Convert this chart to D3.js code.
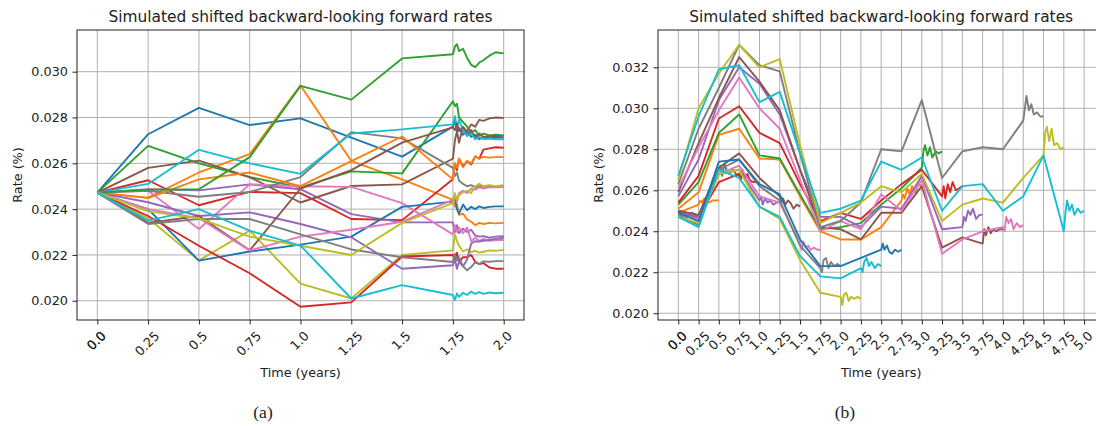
<!DOCTYPE html>
<html>
<head>
<meta charset="utf-8">
<script src="https://cdn.jsdelivr.net/npm/d3@7"></script>
<style>
body { margin: 0; background: #fff; }
svg { display: block; }
text { font-family: "DejaVu Sans", sans-serif; fill: #222; }
</style>
</head>
<body>
<svg></svg>
<script>
// matplotlib tab10 cycle
var colors = ['#1f77b4', '#ff7f0e', '#2ca02c', '#d62728', '#9467bd', '#8c564b', '#e377c2', '#7f7f7f', '#bcbd22', '#17becf'];

// ---- panel (a) data ----
var leftTimes = [0, 0.25, 0.5, 0.75, 1.0, 1.25, 1.5, 1.75];
var leftTailSteps = [0.01, 0.02, 0.03, 0.05, 0.07, 0.09, 0.11, 0.13, 0.15, 0.18, 0.21, 0.25];
var leftKnots = [
	[0.02472, 0.02727, 0.02842, 0.02767, 0.02796, 0.02712, 0.02629, 0.02760],
	[0.02472, 0.02450, 0.02560, 0.02640, 0.02940, 0.02610, 0.02530, 0.02440],
	[0.02472, 0.02676, 0.02600, 0.02540, 0.02495, 0.02565, 0.02556, 0.02871],
	[0.02472, 0.02526, 0.02417, 0.02475, 0.02470, 0.02357, 0.02352, 0.02530],
	[0.02472, 0.02487, 0.02482, 0.02508, 0.02487, 0.02378, 0.02342, 0.02342],
	[0.02472, 0.02580, 0.02612, 0.02540, 0.02429, 0.02501, 0.02508, 0.02620],
	[0.02472, 0.02480, 0.02313, 0.02508, 0.02500, 0.02497, 0.02426, 0.02290],
	[0.02472, 0.02480, 0.02454, 0.02475, 0.02540, 0.02736, 0.02709, 0.02580],
	[0.02472, 0.02360, 0.02176, 0.02306, 0.02075, 0.02010, 0.02200, 0.02220],
	[0.02472, 0.02510, 0.02659, 0.02600, 0.02554, 0.02730, 0.02748, 0.02770],
	[0.02472, 0.02400, 0.02175, 0.02215, 0.02245, 0.02280, 0.02410, 0.02433],
	[0.02472, 0.02448, 0.02530, 0.02560, 0.02500, 0.02610, 0.02717, 0.02530],
	[0.02472, 0.02485, 0.02487, 0.02627, 0.02938, 0.02878, 0.03058, 0.03076],
	[0.02472, 0.02370, 0.02240, 0.02120, 0.01974, 0.01993, 0.02193, 0.02200],
	[0.02472, 0.02430, 0.02370, 0.02386, 0.02335, 0.02277, 0.02140, 0.02155],
	[0.02472, 0.02340, 0.02370, 0.02220, 0.02490, 0.02570, 0.02690, 0.02757],
	[0.02472, 0.02400, 0.02360, 0.02220, 0.02280, 0.02310, 0.02345, 0.02440],
	[0.02472, 0.02335, 0.02357, 0.02357, 0.02290, 0.02224, 0.02190, 0.02169],
	[0.02472, 0.02390, 0.02360, 0.02280, 0.02240, 0.02200, 0.02340, 0.02426],
	[0.02472, 0.02350, 0.02400, 0.02306, 0.02241, 0.02010, 0.02068, 0.02025]
];
var leftTails = [
	[0.02785, 0.02740, 0.02755, 0.02725, 0.02740, 0.02715, 0.02725, 0.02705, 0.02715, 0.02710, 0.02712, 0.02712],
	[0.02410, 0.02420, 0.02375, 0.02380, 0.02355, 0.02345, 0.02330, 0.02340, 0.02335, 0.02340, 0.02338, 0.02340],
	[0.02850, 0.02860, 0.02800, 0.02780, 0.02760, 0.02735, 0.02745, 0.02720, 0.02730, 0.02722, 0.02725, 0.02722],
	[0.02600, 0.02570, 0.02620, 0.02585, 0.02610, 0.02595, 0.02630, 0.02620, 0.02660, 0.02665, 0.02670, 0.02668],
	[0.02300, 0.02330, 0.02295, 0.02315, 0.02300, 0.02310, 0.02285, 0.02280, 0.02282, 0.02275, 0.02280, 0.02282],
	[0.02700, 0.02740, 0.02690, 0.02760, 0.02720, 0.02745, 0.02710, 0.02730, 0.02715, 0.02720, 0.02718, 0.02720],
	[0.02330, 0.02300, 0.02320, 0.02295, 0.02320, 0.02260, 0.02275, 0.02262, 0.02270, 0.02262, 0.02265, 0.02265],
	[0.02545, 0.02560, 0.02525, 0.02510, 0.02500, 0.02505, 0.02495, 0.02500, 0.02498, 0.02500, 0.02496, 0.02498],
	[0.02290, 0.02260, 0.02240, 0.02215, 0.02225, 0.02212, 0.02218, 0.02210, 0.02214, 0.02220, 0.02218, 0.02222],
	[0.02806, 0.02756, 0.02790, 0.02745, 0.02720, 0.02730, 0.02705, 0.02715, 0.02705, 0.02708, 0.02705, 0.02705],
	[0.02450, 0.02400, 0.02380, 0.02420, 0.02395, 0.02410, 0.02400, 0.02412, 0.02405, 0.02410, 0.02412, 0.02412],
	[0.02600, 0.02580, 0.02620, 0.02590, 0.02610, 0.02600, 0.02630, 0.02620, 0.02628, 0.02625, 0.02627, 0.02627],
	[0.03110, 0.03120, 0.03090, 0.03100, 0.03060, 0.03030, 0.03020, 0.03040, 0.03050, 0.03070, 0.03085, 0.03080],
	[0.02180, 0.02210, 0.02170, 0.02190, 0.02190, 0.02200, 0.02170, 0.02160, 0.02165, 0.02145, 0.02140, 0.02140],
	[0.02180, 0.02140, 0.02170, 0.02150, 0.02180, 0.02250, 0.02260, 0.02258, 0.02262, 0.02265, 0.02270, 0.02275],
	[0.02744, 0.02774, 0.02740, 0.02757, 0.02740, 0.02770, 0.02760, 0.02790, 0.02785, 0.02796, 0.02800, 0.02798],
	[0.02460, 0.02430, 0.02470, 0.02480, 0.02470, 0.02490, 0.02485, 0.02495, 0.02490, 0.02496, 0.02495, 0.02496],
	[0.02205, 0.02176, 0.02190, 0.02150, 0.02133, 0.02147, 0.02169, 0.02160, 0.02172, 0.02170, 0.02173, 0.02173],
	[0.02470, 0.02440, 0.02460, 0.02475, 0.02480, 0.02470, 0.02500, 0.02510, 0.02500, 0.02505, 0.02500, 0.02504],
	[0.02003, 0.02032, 0.02017, 0.02035, 0.02025, 0.02040, 0.02030, 0.02038, 0.02030, 0.02036, 0.02033, 0.02035]
];
var leftXTicks = [0, 0.25, 0.5, 0.75, 1.0, 1.25, 1.5, 1.75, 2.0];
var leftXLabels = ['0.0', '0.25', '0.5', '0.75', '1.0', '1.25', '1.5', '1.75', '2.0'];
var leftYTicks = [0.020, 0.022, 0.024, 0.026, 0.028, 0.030];

// ---- panel (b) data ----
var rightTimes = [0, 0.25, 0.5, 0.75, 1.0, 1.25, 1.5, 1.75, 2.0, 2.25, 2.5, 2.75, 3.0, 3.25, 3.5, 3.75, 4.0, 4.25, 4.5, 4.75];
var rightTailSteps = [0.02, 0.04, 0.07, 0.1, 0.13, 0.17, 0.21, 0.25];
var rightKnots = [
	[0.0249],
	[0.0249, 0.0253],
	[0.0250, 0.0246, 0.0270],
	[0.0249, 0.0247, 0.0264, 0.0268],
	[0.0249, 0.0247, 0.0268, 0.0270, 0.0255],
	[0.0250, 0.0248, 0.0271, 0.0278, 0.0266, 0.0257],
	[0.0248, 0.0246, 0.0268, 0.0272, 0.0257, 0.0254, 0.0234],
	[0.0248, 0.0243, 0.0270, 0.0275, 0.0262, 0.0255, 0.0233, 0.0222],
	[0.0247, 0.0244, 0.0268, 0.0270, 0.0252, 0.0246, 0.0226, 0.0210, 0.0208],
	[0.0247, 0.0242, 0.0270, 0.0266, 0.0252, 0.0247, 0.0228, 0.0218, 0.0217, 0.0222],
	[0.0249, 0.0245, 0.0274, 0.0275, 0.0263, 0.0258, 0.0236, 0.0223, 0.0223, 0.0227, 0.0231],
	[0.0251, 0.0259, 0.0287, 0.0290, 0.02755, 0.0275, 0.0257, 0.0240, 0.0236, 0.0236, 0.0242, 0.0255],
	[0.0253, 0.0264, 0.0288, 0.0297, 0.0277, 0.02755, 0.0258, 0.0241, 0.0242, 0.0244, 0.0253, 0.0261, 0.0271],
	[0.0254, 0.0267, 0.0295, 0.0301, 0.0288, 0.0283, 0.0263, 0.0245, 0.0249, 0.0246, 0.0255, 0.0263, 0.0270, 0.0257],
	[0.0257, 0.0275, 0.0304, 0.0320, 0.0312, 0.0297, 0.0270, 0.0247, 0.0247, 0.0242, 0.0252, 0.0251, 0.0267, 0.0241, 0.0242],
	[0.0259, 0.0283, 0.0305, 0.0325, 0.0313, 0.0299, 0.0270, 0.0242, 0.0241, 0.0236, 0.0249, 0.0249, 0.0262, 0.0232, 0.0237, 0.0234],
	[0.0261, 0.0281, 0.0299, 0.0315, 0.0300, 0.0290, 0.0265, 0.0240, 0.0245, 0.0241, 0.0258, 0.0250, 0.0265, 0.0229, 0.0236, 0.0240, 0.0242],
	[0.0263, 0.0290, 0.0310, 0.0331, 0.0321, 0.0318, 0.0278, 0.0242, 0.0245, 0.0254, 0.0280, 0.0279, 0.0304, 0.0266, 0.0279, 0.0281, 0.0280, 0.0294],
	[0.0265, 0.0300, 0.0317, 0.0331, 0.0320, 0.0324, 0.0282, 0.0244, 0.0249, 0.0254, 0.0262, 0.0259, 0.0268, 0.0245, 0.0253, 0.0256, 0.0254, 0.0266, 0.0277],
	[0.0267, 0.0296, 0.0319, 0.0321, 0.0303, 0.0308, 0.0278, 0.0249, 0.0251, 0.0255, 0.0274, 0.0270, 0.0276, 0.0250, 0.0262, 0.0263, 0.0250, 0.0257, 0.0277, 0.0240]
];
var rightTails = [
	[0.0250, 0.0248, 0.0249, 0.0247, 0.0248, 0.0249, 0.0248, 0.0248],
	[0.0255, 0.0254, 0.0256, 0.0255, 0.0254, 0.0255, 0.0255, 0.0255],
	[0.0272, 0.0267, 0.0273, 0.0269, 0.0268, 0.0270, 0.0268, 0.0267],
	[0.0265, 0.0270, 0.0266, 0.0268, 0.0265, 0.0264, 0.0264, 0.0263],
	[0.0257, 0.0253, 0.0256, 0.0254, 0.0255, 0.0253, 0.0254, 0.0254],
	[0.0254, 0.0256, 0.0253, 0.0255, 0.0254, 0.0251, 0.0253, 0.0252],
	[0.0231, 0.0235, 0.0232, 0.0233, 0.0231, 0.0232, 0.0231, 0.0231],
	[0.0220, 0.0226, 0.0227, 0.0222, 0.0225, 0.0223, 0.0224, 0.0223],
	[0.0204, 0.0209, 0.0210, 0.0206, 0.0208, 0.0207, 0.0208, 0.0207],
	[0.0220, 0.0225, 0.0227, 0.0223, 0.0225, 0.0222, 0.0224, 0.0223],
	[0.0234, 0.0231, 0.0233, 0.0230, 0.0229, 0.0231, 0.0230, 0.0231],
	[0.0258, 0.0256, 0.0261, 0.0258, 0.0262, 0.0259, 0.0263, 0.0262],
	[0.0279, 0.0282, 0.0277, 0.0281, 0.0276, 0.0279, 0.0278, 0.0279],
	[0.0262, 0.0256, 0.0263, 0.0259, 0.0264, 0.0260, 0.0261, 0.0262],
	[0.0247, 0.0245, 0.0250, 0.0248, 0.0251, 0.0246, 0.0248, 0.0248],
	[0.0241, 0.0238, 0.0242, 0.0239, 0.0241, 0.0240, 0.0241, 0.0241],
	[0.0240, 0.0247, 0.0244, 0.0246, 0.0241, 0.0244, 0.0242, 0.0243],
	[0.0300, 0.0306, 0.0299, 0.0302, 0.0297, 0.0298, 0.0296, 0.0296],
	[0.0288, 0.0291, 0.0284, 0.0290, 0.0282, 0.0283, 0.0280, 0.0281],
	[0.0249, 0.0255, 0.0250, 0.0253, 0.0248, 0.0251, 0.0249, 0.0250]
];
var rightXTicks = [0, 0.25, 0.5, 0.75, 1.0, 1.25, 1.5, 1.75, 2.0, 2.25, 2.5, 2.75, 3.0, 3.25, 3.5, 3.75, 4.0, 4.25, 4.5, 4.75, 5.0];
var rightXLabels = ['0.0', '0.25', '0.5', '0.75', '1.0', '1.25', '1.5', '1.75', '2.0', '2.25', '2.5', '2.75', '3.0', '3.25', '3.5', '3.75', '4.0', '4.25', '4.5', '4.75', '5.0'];
var rightYTicks = [0.020, 0.022, 0.024, 0.026, 0.028, 0.030, 0.032];

var titleText = 'Simulated shifted backward-looking forward rates';

var svg = d3.select('svg').attr('width', 1096).attr('height', 426);
var fs = 12.8;

// join knots and the daily tail into one [t, v] series
function buildPaths(knots, tails, times, steps) {
	return knots.map(function(k, i) {
		var pts = k.map(function(v, j) { return [times[j], v]; });
		var tEnd = times[k.length - 1];
		tails[i].forEach(function(v, j) { pts.push([tEnd + steps[j], v]); });
		return pts;
	});
}

function panel(o) {
	var g = svg.append('g');
	var x = d3.scaleLinear().domain(o.xDomain).range([o.left, o.right]);
	var y = d3.scaleLinear().domain(o.yDomain).range([o.bottom, o.top]);

	// grid
	g.append('g').selectAll('line').data(o.xTicks).enter().append('line')
		.attr('x1', function(d) { return x(d); }).attr('x2', function(d) { return x(d); })
		.attr('y1', o.top).attr('y2', o.bottom)
		.attr('stroke', '#b0b0b0').attr('stroke-width', 1);
	g.append('g').selectAll('line').data(o.yTicks).enter().append('line')
		.attr('y1', function(d) { return y(d); }).attr('y2', function(d) { return y(d); })
		.attr('x1', o.left).attr('x2', o.right)
		.attr('stroke', '#b0b0b0').attr('stroke-width', 1);

	// paths
	var line = d3.line().x(function(d) { return x(d[0]); }).y(function(d) { return y(d[1]); });
	g.append('g').selectAll('path').data(o.paths).enter().append('path')
		.attr('d', line)
		.attr('fill', 'none')
		.attr('stroke', function(d, i) { return colors[i % 10]; })
		.attr('stroke-width', 1.9)
		.attr('stroke-linejoin', 'round');

	// frame
	g.append('rect')
		.attr('x', o.left).attr('y', o.top)
		.attr('width', o.right - o.left).attr('height', o.bottom - o.top)
		.attr('fill', 'none').attr('stroke', '#222').attr('stroke-width', 1);

	// x axis, rotated labels
	var xa = g.append('g').attr('transform', 'translate(0,' + o.bottom + ')')
		.call(d3.axisBottom(x).tickValues(o.xTicks).tickSize(4.5)
			.tickFormat(function(d, i) { return o.xLabels[i]; }));
	xa.select('.domain').remove();
	xa.selectAll('.tick line').attr('stroke', '#222');
	xa.selectAll('.tick text')
		.attr('font-family', '"DejaVu Sans", sans-serif')
		.attr('font-size', fs)
		.attr('fill', '#222')
		.attr('text-anchor', 'middle')
		.attr('dy', null).attr('y', null)
		.attr('dominant-baseline', 'central')
		.attr('transform', function() {
			var w = this.getComputedTextLength();
			var yc = 9 + (w + fs) * 0.7071 / 2;
			return 'translate(-1.5,' + yc + ') rotate(-45)';
		});
	// the zero label is drawn twice in the source
	xa.selectAll('.tick').filter(function(d) { return d === 0; }).select('text').clone(true);

	// y axis
	var ya = g.append('g').attr('transform', 'translate(' + o.left + ',0)')
		.call(d3.axisLeft(y).tickValues(o.yTicks).tickSize(4.5).tickPadding(4.5).tickFormat(d3.format('.3f')));
	ya.select('.domain').remove();
	ya.selectAll('.tick line').attr('stroke', '#222');
	ya.selectAll('.tick text').attr('font-family', '"DejaVu Sans", sans-serif').attr('font-size', fs).attr('fill', '#222');

	var cx = (o.left + o.right) / 2;
	g.append('text').attr('x', cx).attr('y', 22)
		.attr('text-anchor', 'middle').attr('font-size', 15.4).text(titleText);
	g.append('text').attr('x', cx).attr('y', 377)
		.attr('text-anchor', 'middle').attr('font-size', fs).text('Time (years)');
	g.append('text')
		.attr('transform', 'translate(' + o.yLabelX + ',' + ((o.top + o.bottom) / 2) + ') rotate(-90)')
		.attr('text-anchor', 'middle').attr('font-size', fs).text('Rate (%)');
	g.append('text').attr('x', o.captionX).attr('y', 418)
		.attr('text-anchor', 'middle')
		.style('font-family', '"Liberation Serif", "DejaVu Serif", serif')
		.attr('font-size', 17.5).text(o.caption);
}

panel({
	left: 77, right: 524, top: 30, bottom: 320,
	xDomain: [-0.1, 2.1], yDomain: [0.01916, 0.03182],
	xTicks: leftXTicks, xLabels: leftXLabels, yTicks: leftYTicks,
	paths: buildPaths(leftKnots, leftTails, leftTimes, leftTailSteps),
	yLabelX: 22, caption: '(a)', captionX: 263
});

panel({
	left: 658, right: 1104.4, top: 30, bottom: 320,
	xDomain: [-0.25, 5.25], yDomain: [0.01967, 0.03382],
	xTicks: rightXTicks, xLabels: rightXLabels, yTicks: rightYTicks,
	paths: buildPaths(rightKnots, rightTails, rightTimes, rightTailSteps),
	yLabelX: 603, caption: '(b)', captionX: 845
});
</script>
</body>
</html>
